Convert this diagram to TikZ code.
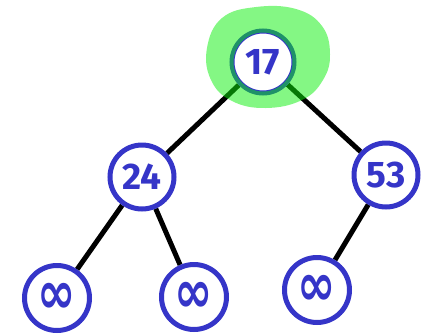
\documentclass[tikz,border=0pt]{standalone}
\usepackage{fontspec}
\usepackage{graphicx}
\setmainfont{Fira Sans}
\newfontfamily\symfont{DejaVu Sans}
\usetikzlibrary{backgrounds}
\definecolor{ink}{RGB}{53,53,200}
\definecolor{glow}{RGB}{10,240,10}
\begin{document}
\begin{tikzpicture}[x=1pt,y=-1pt,
  keynode/.style={circle, draw=ink, line width=5pt, fill=white, text=ink,
    minimum size=64pt, inner sep=0pt,
    font=\fontsize{37}{37}\selectfont\bfseries},
  leaf/.style={keynode, minimum size=65pt, font=\symfont\fontsize{46}{46}\selectfont\bfseries},
  link/.style={line width=5pt, black}]
\useasboundingbox (0,0) rectangle (426,335);
% tree nodes
\node[keynode, minimum size=62pt] (r) at (263,62) {17};
\node[keynode] (a) at (142,177) {24};
\node[keynode] (b) at (386,175) {53};
\node[leaf] (a1) at (57,298) {\scalebox{1}[1.3]{∞}};
\node[leaf] (a2) at (194,297) {\scalebox{1}[1.3]{∞}};
\node[leaf] (b1) at (317,290) {\scalebox{1}[1.3]{∞}};
% edges behind the nodes
\begin{scope}[on background layer]
  \draw[link] (r) -- (a);
  \draw[link] (r) -- (b);
  \draw[link] (a) -- (a1);
  \draw[link] (a) -- (a2);
  \draw[link] (b) -- (b1);
\end{scope}
% highlight around the root
\fill[glow, opacity=0.5, even odd rule]
  plot[smooth cycle, tension=0.7] coordinates {(222,18) (256,7) (296,9) (322,26) (330,54) (323,80) (302,100) (266,108) (232,101) (211,80) (207,48)}
  (r.center) circle[radius=29.5];
\end{tikzpicture}
\end{document}
